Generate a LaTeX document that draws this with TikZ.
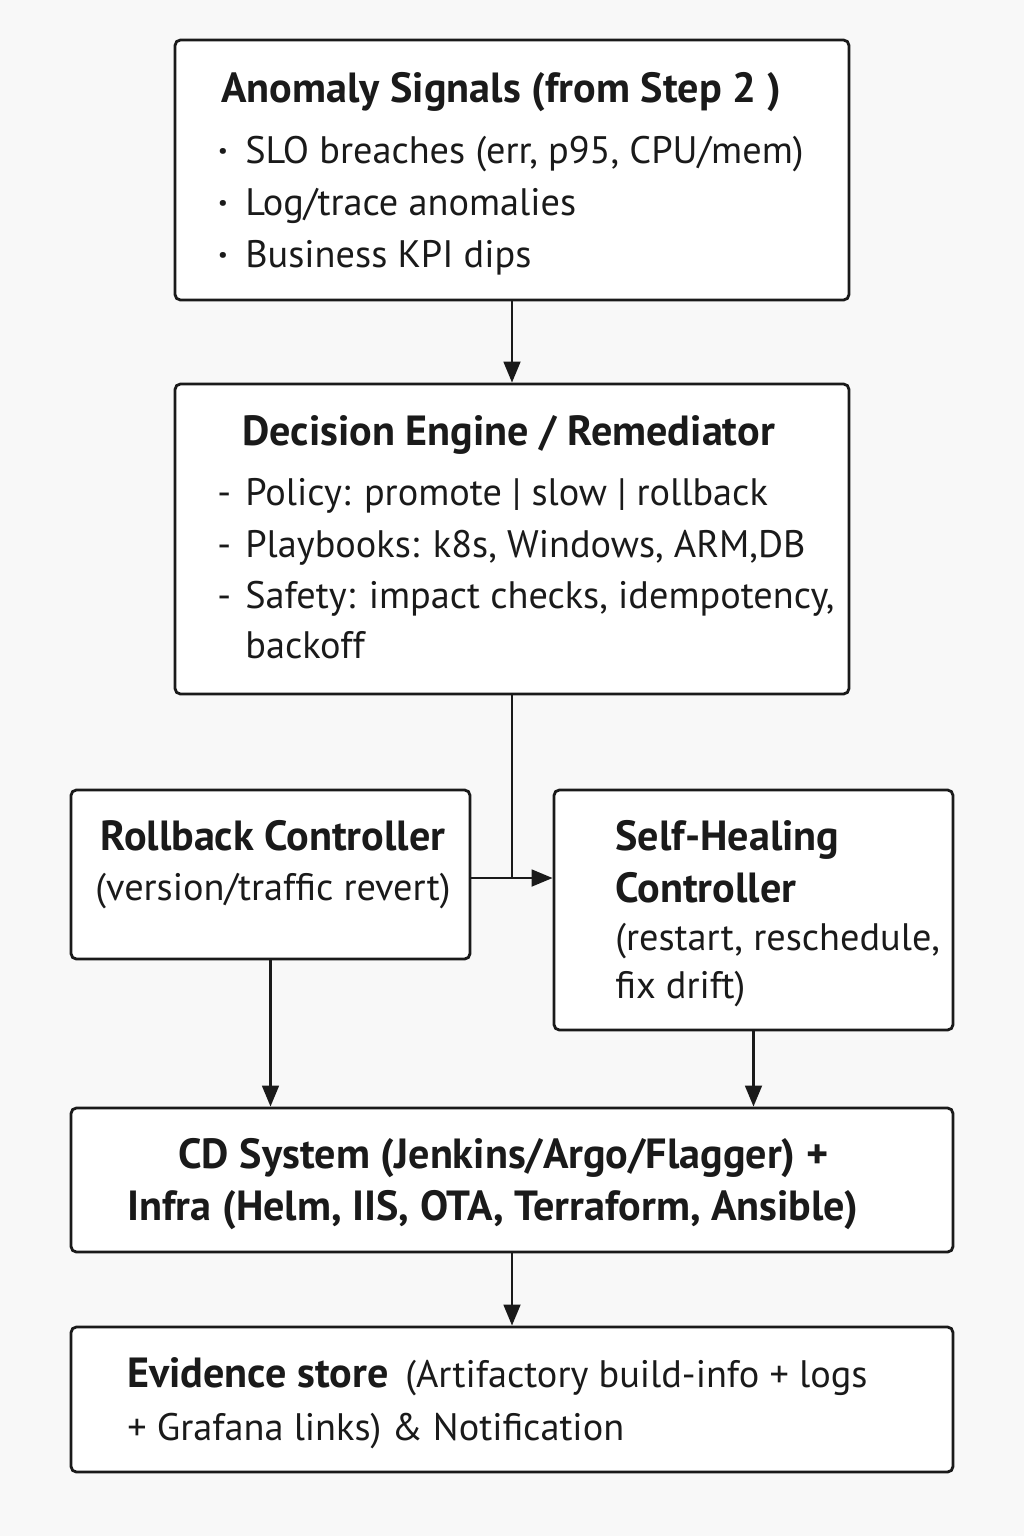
\documentclass[tikz,border=0pt]{standalone}
\usepackage{fontspec}
\setmainfont{PT Sans}
\usepackage{tikz}
\usetikzlibrary{arrows.meta, calc}

\definecolor{pagebg}{HTML}{F8F8F8}
\definecolor{ink}{HTML}{1A1A1A}

\newcommand{\dotmark}{\makebox[0.54cm][l]{\textbf{·}}}
\newcommand{\dashmark}{\makebox[0.56cm][l]{-}}

\tikzset{
  box/.style={draw=ink, fill=white, line width=1.6pt, rounded corners=3pt, inner sep=0pt},
  txt/.style={anchor=base west, inner sep=0pt, font=\fontsize{21.8}{26}\selectfont, text=ink},
  ttl/.style={txt, font=\fontsize{24}{28}\selectfont\bfseries},
  flow/.style={draw=ink, line width=1.6pt},
  arr/.style={flow, -{Triangle[length=12pt, width=9.5pt]}},
}

\begin{document}
\begin{tikzpicture}[x=0.02cm, y=-0.02cm]
\useasboundingbox[fill=pagebg] (0,0) rectangle (1024,1536);

% boxes
\node[box, minimum width=13.48cm, minimum height=5.2cm] (sig) at (512,170) {};
\node[box, minimum width=13.48cm, minimum height=6.2cm] (dec) at (512,539) {};
\node[box, minimum width=7.98cm, minimum height=3.38cm] (rbk) at (270.5,874.5) {};
\node[box, minimum width=7.98cm, minimum height=4.8cm] (heal) at (753.5,910) {};
\node[box, minimum width=17.64cm, minimum height=2.88cm] (cd) at (512,1180) {};
\node[box, minimum width=17.64cm, minimum height=2.9cm] (evid) at (512,1399.5) {};

% anomaly signals
\node[ttl] (sigT) at (221,102) {Anomaly Signals (from Step 2 )};
\node[txt] (sigA) at (218,163) {\dotmark SLO breaches (err, p95, CPU/mem)};
\node[txt] (sigB) at (218,215) {\dotmark Log/trace anomalies};
\node[txt] (sigC) at (218,267) {\dotmark Business KPI dips};

% decision engine
\node[ttl] (decT) at (242,445) {Decision Engine / Remediator};
\node[txt] (decA) at (217,505) {\dashmark Policy: promote | slow | rollback};
\node[txt] (decB) at (217,557) {\dashmark Playbooks: k8s, Windows, ARM,DB};
\node[txt] (decC) at (217,608) {\dashmark Safety: impact checks, idempotency,};
\node[txt] (decD) at (245,658) {backoff};

% controllers
\node[ttl, anchor=base] (rbkT) at (273,850) {Rollback Controller};
\node[txt, anchor=base] (rbkA) at (273,900) {(version/traffic revert)};
\node[ttl] (healT) at (615,850) {Self-Healing};
\node[ttl] (healU) at (615,902) {Controller};
\node[txt] (healA) at (615,950) {(restart, reschedule,};
\node[txt] (healB) at (615,998) {fix drift)};

% cd system
\node[ttl] (cdT) at (178,1168) {CD System (Jenkins/Argo/Flagger) +};
\node[ttl] (cdU) at (127,1220) {Infra (Helm, IIS, OTA, Terraform, Ansible)};

% evidence
\node[txt] (evA) at (127,1387) {{\fontsize{24}{28}\selectfont\bfseries Evidence store} \,(Artifactory build-info + logs};
\node[txt] (evB) at (127,1440) {+ Grafana links) \& Notification};

% connectors
\coordinate (jn) at (512,878);
\draw[arr] (sig.south) -- (dec.north);
\draw[flow] (dec.south) -- (jn);
\draw[arr] (rbk.east |- jn) -- (heal.west |- jn);
\draw[arr] (rbk.south) -- (rbk.south |- cd.north);
\draw[arr] (heal.south) -- (heal.south |- cd.north);
\draw[arr] (cd.south) -- (evid.north);
\end{tikzpicture}
\end{document}
